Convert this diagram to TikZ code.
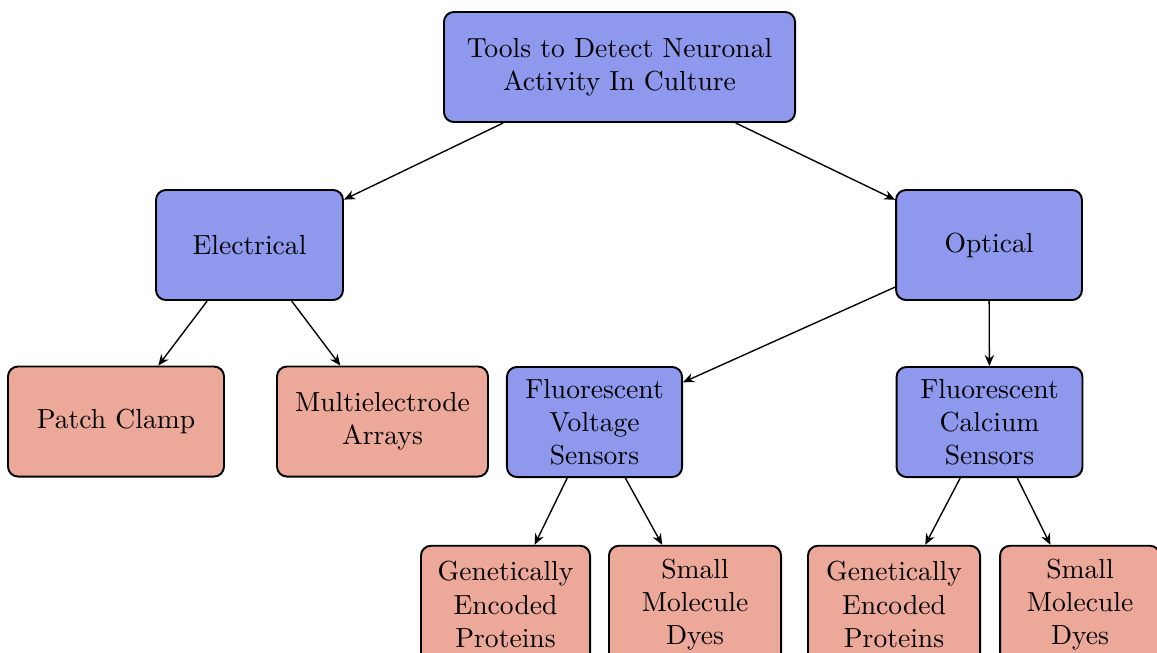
\documentclass[tikz,border=0pt]{standalone}
\usetikzlibrary{arrows.meta}
\definecolor{bluebox}{RGB}{142,152,236}
\definecolor{redbox}{RGB}{236,168,152}
\tikzset{
  blk/.style={draw, line width=0.7pt, rounded corners=3.6pt, align=center,
    minimum height=39.9pt, inner sep=2pt},
  tool/.style={blk, fill=bluebox},
  leaf/.style={blk, fill=redbox},
  link/.style={-{Stealth[length=4pt,width=3.4pt]}, line width=0.5pt}
}
\begin{document}
\begin{tikzpicture}[x=0.3626pt, y=-0.3626pt]
\useasboundingbox (0,0) rectangle (1157,652);

% top
\node[tool, minimum width=127.3pt] (root) at (619.5,67) {Tools to Detect Neuronal\\ Activity In Culture};

% second row
\node[tool, minimum width=67.8pt] (elec) at (249.5,245) {Electrical};
\node[tool, minimum width=67.4pt] (opt) at (989,245) {Optical};

% third row
\node[leaf, minimum width=78.3pt] (patch) at (116,421.5) {Patch Clamp};
\node[leaf, minimum width=76.5pt] (mea) at (382.5,421.5) {Multielectrode\\ Arrays};
\node[tool, minimum width=63.5pt] (volt) at (594.5,422) {Fluorescent\\ Voltage\\ Sensors};
\node[tool, minimum width=67.4pt] (calc) at (989.5,422) {Fluorescent\\ Calcium\\ Sensors};

% bottom row
\node[leaf, minimum width=61.3pt, minimum height=42.6pt] (vgen) at (505.5,604.5) {Genetically\\ Encoded\\ Proteins};
\node[leaf, minimum width=62.4pt, minimum height=42.6pt] (vdye) at (695,604.5) {Small\\ Molecule\\ Dyes};
\node[leaf, minimum width=62.4pt, minimum height=42.6pt] (cgen) at (894,604.5) {Genetically\\ Encoded\\ Proteins};
\node[leaf, minimum width=58pt, minimum height=42.6pt] (cdye) at (1080,604.5) {Small\\ Molecule\\ Dyes};

\draw[link] (root) -- (elec);
\draw[link] (root) -- (opt);
\draw[link] (elec) -- (patch);
\draw[link] (elec) -- (mea);
\draw[link] (opt) -- (volt);
\draw[link] (opt) -- (calc);
\draw[link] (volt) -- (vgen);
\draw[link] (volt) -- (vdye);
\draw[link] (calc) -- (cgen);
\draw[link] (calc) -- (cdye);
\end{tikzpicture}
\end{document}
